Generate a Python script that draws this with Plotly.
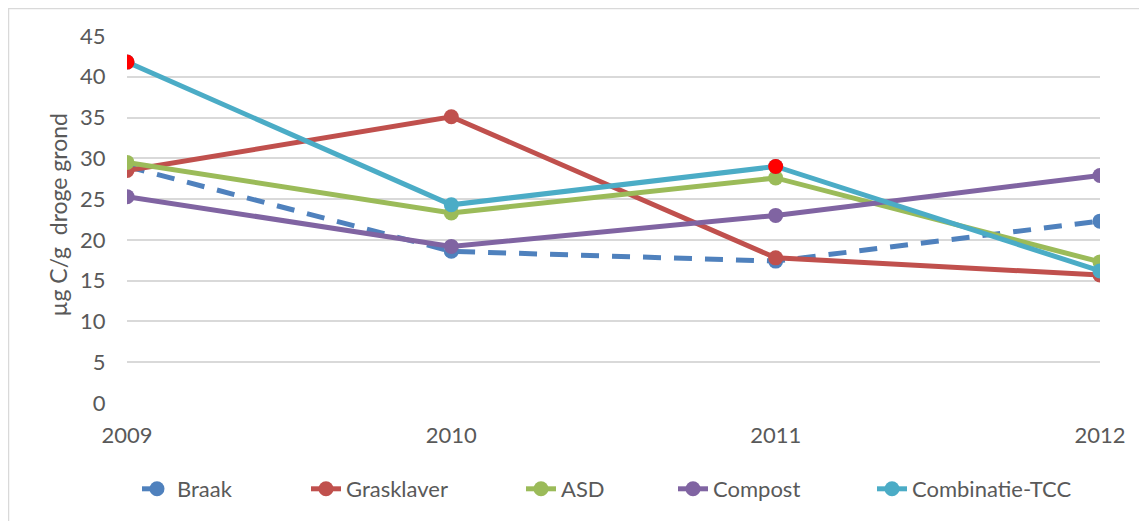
import plotly.graph_objects as go

years = ["2009", "2010", "2011", "2012"]
series_names = ["Braak", "Grasklaver", "ASD", "Compost", "Combinatie-TCC"]
braak = [29.0, 18.6, 17.4, 22.3]
grasklaver = [28.5, 35.1, 17.8, 15.7]
asd = [29.5, 23.3, 27.6, 17.3]
compost = [25.3, 19.2, 23.0, 27.9]
combinatie = [41.8, 24.3, 29.0, 16.2]
highlight_idx = [0, 2]
y_ticks = [0, 5, 10, 15, 20, 25, 30, 35, 40, 45]

colors = ["#4F81BD", "#C0504D", "#9BBB59", "#8064A2", "#4BACC6"]
values = [braak, grasklaver, asd, compost, combinatie]
legend_text_x = [178, 347, 562, 714, 913]  # page x where each legend label starts

# page has an 8px body margin; figure coordinates = page - 8
W, H = 1139, 513
L, T = 119, 28
pw, ph = 973, 368
R, B = W - L - pw, H - T - ph
TEXT_OFF = 41  # approx offset from legend x to label start

font_family = "Lato, 'Open Sans', sans-serif"
fs = 22

fig = go.Figure()
legend_layouts = {}
for i, (name, vals, col) in enumerate(zip(series_names, values, colors)):
    lname = "legend" if i == 0 else f"legend{i + 1}"
    fig.add_trace(go.Scatter(
        x=years, y=vals, name=name, mode="lines+markers", legend=lname,
        line=dict(color=col, width=5, dash="18px,13px" if name == "Braak" else "solid"),
        marker=dict(color=col, size=15),
    ))
    legend_layouts[lname] = dict(
        orientation="h", x=(legend_text_x[i] - 8 - TEXT_OFF - L) / pw, xanchor="left",
        y=(T + ph - 481) / ph, yanchor="middle", bgcolor="rgba(0,0,0,0)",
        font=dict(size=fs, color="#595959", family=font_family))

fig.add_trace(go.Scatter(
    x=[years[i] for i in highlight_idx], y=[combinatie[i] for i in highlight_idx],
    mode="markers", marker=dict(color="#FF0000", size=15), showlegend=False, hoverinfo="skip",
))

fig.update_layout(
    width=W, height=H,
    margin=dict(l=L, r=R, t=T, b=B, pad=0),
    paper_bgcolor="white", plot_bgcolor="white",
    font=dict(family=font_family, size=fs, color="#595959"),
    showlegend=True,
    xaxis=dict(type="category", range=[0, 3], showgrid=False, zeroline=False,
               showline=False, ticks="outside", ticklen=13, tickcolor="rgba(0,0,0,0)",
               tickfont=dict(size=fs, color="#595959")),
    yaxis=dict(range=[0, 45], tickvals=y_ticks, showgrid=True, gridcolor="#D9D9D9",
               gridwidth=1.5, zeroline=False, showline=False,
               ticks="outside", ticklen=16, tickcolor="rgba(0,0,0,0)",
               tickfont=dict(size=fs, color="#595959")),
    **legend_layouts,
)

fig.add_annotation(text="µg C/g&nbsp; droge grond", textangle=-90,
                   xref="paper", yref="paper", x=(50 - L) / pw, y=(T + ph - 207) / ph,
                   xanchor="center", yanchor="middle", showarrow=False,
                   font=dict(family=font_family, size=23, color="#595959"))

# outer chart border (top and left visible)
fig.add_shape(type="line", xref="paper", yref="paper",
              x0=(0 - L) / pw, x1=(W + 5 - L) / pw,
              y0=(T + ph - 0.5) / ph, y1=(T + ph - 0.5) / ph,
              line=dict(color="#D9D9D9", width=1.5), layer="below")
fig.add_shape(type="line", xref="paper", yref="paper",
              x0=(0.5 - L) / pw, x1=(0.5 - L) / pw,
              y0=(T + ph) / ph, y1=(T + ph - H - 5) / ph,
              line=dict(color="#D9D9D9", width=1.5), layer="below")

fig.write_html("out.html")
